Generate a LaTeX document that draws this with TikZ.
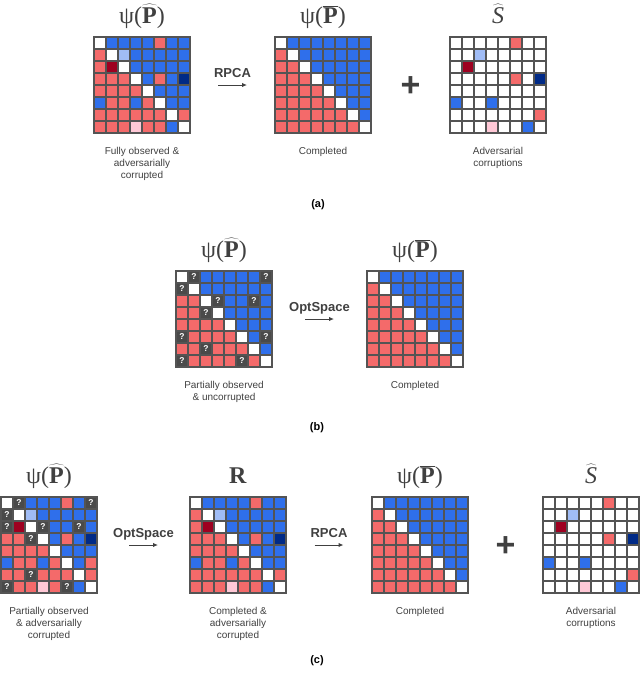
\documentclass[tikz,border=0pt]{standalone}
\usepackage{fontspec}
\setmainfont{Liberation Serif}
\newfontfamily\capfont{Liberation Sans}
\usepackage{tikz}
\usetikzlibrary{positioning, arrows.meta}

% cell colours, one letter each
\definecolor{cW}{RGB}{255,255,255}
\definecolor{cB}{RGB}{47,111,235}
\definecolor{cR}{RGB}{244,106,106}
\definecolor{cL}{RGB}{160,188,245}
\definecolor{cD}{RGB}{158,0,32}
\definecolor{cK}{RGB}{0,42,135}
\definecolor{cP}{RGB}{255,200,214}
\definecolor{cQ}{RGB}{74,74,74}
\definecolor{inkgray}{RGB}{64,64,64}
\definecolor{linegray}{RGB}{84,84,84}

\def\cellsz{12}
\def\qmark{Q}
% #1 = frame node, #2 = rows of cell codes
\newcommand{\fillgrid}[2]{%
  \begin{scope}[shift={(#1.north west)}]
    \foreach \rowcodes [count=\i from 0] in {#2} {
      \foreach \code [count=\j from 0] in \rowcodes {
        \fill[fill=c\code] (\j*\cellsz, \i*\cellsz) rectangle ++(\cellsz, \cellsz);
        \ifx\code\qmark
          \node[qtext] at (\j*\cellsz+0.5*\cellsz, \i*\cellsz+0.5*\cellsz) {?};
        \fi
      }
    }
    \foreach \k in {0,...,8} {
      \draw[gridline] (\k*\cellsz, 0) -- (\k*\cellsz, 8*\cellsz);
      \draw[gridline] (0, \k*\cellsz) -- (8*\cellsz, \k*\cellsz);
    }
  \end{scope}}

\begin{document}
\begin{tikzpicture}[x=1pt, y=-1pt]
        % Setup the styles
        \tikzset{matframe/.style={minimum width=96pt, minimum height=96pt,
                                  inner sep=0pt, outer sep=0pt, anchor=north west},
                 title/.style={font=\fontsize{24}{26}\selectfont, text=inkgray,
                               inner sep=0pt, anchor=base},
                 caption/.style={font=\capfont\fontsize{10}{12}\selectfont, text=inkgray,
                                 align=center, inner sep=0pt},
                 op/.style={font=\capfont\bfseries\fontsize{13}{15}\selectfont, text=inkgray,
                            inner sep=0pt, anchor=base, yshift=8pt},
                 flow/.style={draw=inkgray, line width=1pt, -{Latex[length=5pt,width=4.5pt]}},
                 plus/.style={font=\capfont\bfseries\fontsize{34}{36}\selectfont, text=inkgray,
                              inner sep=0pt, yshift=-2pt},
                 panel/.style={font=\capfont\bfseries\fontsize{11}{13}\selectfont, text=black},
                 gridline/.style={draw=linegray, line width=1.8pt, line cap=rect},
                 qtext/.style={font=\capfont\bfseries\fontsize{8.5}{9}\selectfont, text=white,
                               inner sep=0pt}}

        \useasboundingbox (0,0) rectangle (640,673);

        % Matrix frames
        \node[matframe] at (94, 37)   (hatA) {};
        \node[matframe] at (275, 37)  (barA) {};
        \node[matframe] at (450, 37)  (sA)   {};
        \node[matframe] at (176, 271) (hatB) {};
        \node[matframe] at (367, 271) (barB) {};
        \node[matframe] at (1, 497)   (hatC) {};
        \node[matframe] at (190, 497) (recC) {};
        \node[matframe] at (372, 497) (barC) {};
        \node[matframe] at (543, 497) (sC)   {};

        % Fill the cells
        \fillgrid{hatA}{{W,B,B,B,B,R,B,B},{R,W,L,B,B,B,B,B},{R,D,W,B,B,B,B,B},{R,R,R,W,B,R,B,K},
                        {R,R,R,R,W,B,B,B},{B,R,R,B,R,W,B,B},{R,R,R,R,R,R,W,R},{R,R,R,P,R,R,B,W}}
        \fillgrid{barA}{{W,B,B,B,B,B,B,B},{R,W,B,B,B,B,B,B},{R,R,W,B,B,B,B,B},{R,R,R,W,B,B,B,B},
                        {R,R,R,R,W,B,B,B},{R,R,R,R,R,W,B,B},{R,R,R,R,R,R,W,B},{R,R,R,R,R,R,R,W}}
        \fillgrid{sA}{{W,W,W,W,W,R,W,W},{W,W,L,W,W,W,W,W},{W,D,W,W,W,W,W,W},{W,W,W,W,W,R,W,K},
                      {W,W,W,W,W,W,W,W},{B,W,W,B,W,W,W,W},{W,W,W,W,W,W,W,R},{W,W,W,P,W,W,B,W}}
        \fillgrid{hatB}{{W,Q,B,B,B,B,B,Q},{Q,W,B,B,B,B,B,B},{R,R,W,Q,B,B,Q,B},{R,R,Q,W,B,B,B,B},
                        {R,R,R,R,W,B,B,B},{Q,R,R,R,R,W,B,Q},{R,R,Q,R,R,R,W,B},{Q,R,R,R,R,Q,R,W}}
        \fillgrid{barB}{{W,B,B,B,B,B,B,B},{R,W,B,B,B,B,B,B},{R,R,W,B,B,B,B,B},{R,R,R,W,B,B,B,B},
                        {R,R,R,R,W,B,B,B},{R,R,R,R,R,W,B,B},{R,R,R,R,R,R,W,B},{R,R,R,R,R,R,R,W}}
        \fillgrid{hatC}{{W,Q,B,B,B,R,B,Q},{Q,W,L,B,B,B,B,B},{Q,D,W,Q,B,B,Q,B},{R,R,Q,W,B,R,B,K},
                        {R,R,R,R,W,B,B,B},{B,R,R,B,R,W,B,R},{R,R,Q,R,R,R,W,R},{Q,R,R,P,R,Q,B,W}}
        \fillgrid{recC}{{W,B,B,B,B,R,B,B},{R,W,L,B,B,B,B,B},{R,D,W,B,B,B,B,B},{R,R,R,W,B,R,B,K},
                        {R,R,R,R,W,B,B,B},{B,R,R,B,R,W,B,B},{R,R,R,R,R,R,W,R},{R,R,R,P,R,R,B,W}}
        \fillgrid{barC}{{W,B,B,B,B,B,B,B},{R,W,B,B,B,B,B,B},{R,R,W,B,B,B,B,B},{R,R,R,W,B,B,B,B},
                        {R,R,R,R,W,B,B,B},{R,R,R,R,R,W,B,B},{R,R,R,R,R,R,W,B},{R,R,R,R,R,R,R,W}}
        \fillgrid{sC}{{W,W,W,W,W,R,W,W},{W,W,L,W,W,W,W,W},{W,D,W,W,W,W,W,W},{W,W,W,W,W,R,W,K},
                      {W,W,W,W,W,W,W,W},{B,W,W,B,W,W,W,W},{W,W,W,W,W,W,W,R},{W,W,W,P,W,W,B,W}}

        % Titles
        \node[title] at ([yshift=14pt]hatA.north) (tHatA) {ψ($\widehat{\mathbf{P}}$)};
        \node[title] at ([yshift=14pt]barA.north) (tBarA) {ψ($\overline{\mathbf{P}}$)};
        \node[title] at ([yshift=14pt]sA.north)   (tSA)   {$\widehat{\mathit{S}}$};
        \node[title] at ([yshift=14pt]hatB.north) (tHatB) {ψ($\widehat{\mathbf{P}}$)};
        \node[title] at ([yshift=14pt]barB.north) (tBarB) {ψ($\overline{\mathbf{P}}$)};
        \node[title] at ([yshift=14pt]hatC.north) (tHatC) {ψ($\widehat{\mathbf{P}}$)};
        \node[title] at ([yshift=14pt]recC.north) (tRecC) {\textbf{R}};
        \node[title] at ([yshift=14pt]barC.north) (tBarC) {ψ($\overline{\mathbf{P}}$)};
        \node[title] at ([yshift=14pt]sC.north)   (tSC)   {$\widehat{\mathit{S}}$};

        % Captions
        \node[caption, below=14pt of hatA] (cHatA) {Fully observed \&\\adversarially\\corrupted};
        \node[caption, below=14pt of barA] (cBarA) {Completed};
        \node[caption, below=14pt of sA]   (cSA)   {Adversarial\\corruptions};
        \node[caption, below=14pt of hatB] (cHatB) {Partially observed\\\& uncorrupted};
        \node[caption, below=14pt of barB] (cBarB) {Completed};
        \node[caption, below=14pt of hatC] (cHatC) {Partially observed\\\& adversarially\\corrupted};
        \node[caption, below=14pt of recC] (cRecC) {Completed \&\\adversarially\\corrupted};
        \node[caption, below=14pt of barC] (cBarC) {Completed};
        \node[caption, below=14pt of sC]   (cSC)   {Adversarial\\corruptions};

        % Connect the matrices
        \draw[flow, shorten <=28pt, shorten >=28pt] (hatA.east) -- node[op] {RPCA} (barA.west);
        \path (barA.east) -- node[plus] {+} (sA.west);
        \draw[flow, shorten <=33pt, shorten >=33pt] (hatB.east) -- node[op] {OptSpace} (barB.west);
        \draw[flow, shorten <=32pt, shorten >=32pt] (hatC.east) -- node[op] {OptSpace} (recC.west);
        \draw[flow, shorten <=28.5pt, shorten >=28.5pt] (recC.east) -- node[op] {RPCA} (barC.west);
        \path (barC.east) -- node[plus] {+} (sC.west);

        % Panel labels
        \node[panel] at (318, 205) (labA) {(a)};
        \node[panel] at (317, 428) (labB) {(b)};
        \node[panel] at (317, 661) (labC) {(c)};
\end{tikzpicture}
\end{document}
